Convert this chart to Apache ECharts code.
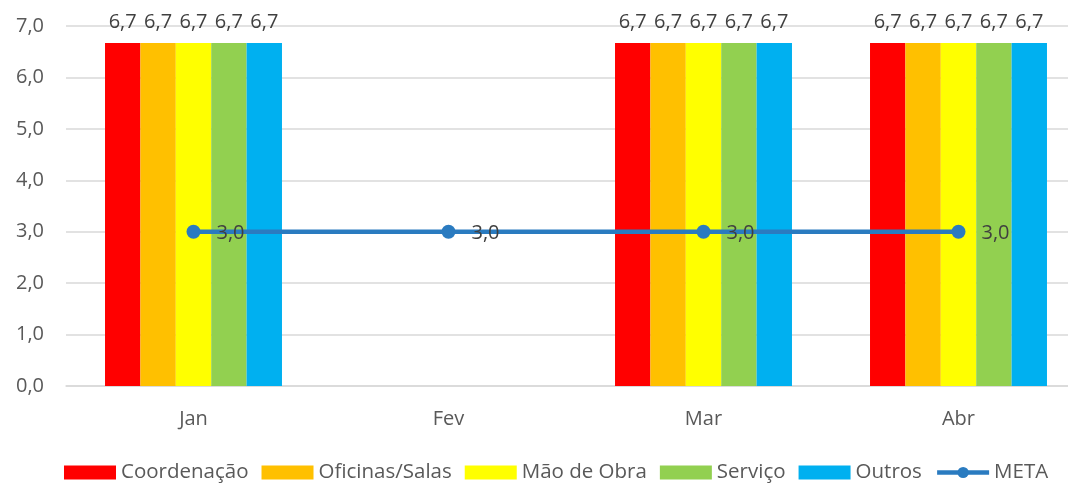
<!DOCTYPE html>
<html>
<head>
<meta charset="utf-8">
<script src="https://cdn.jsdelivr.net/npm/echarts@6/dist/echarts.min.js"></script>
<style>
    html, body { margin: 0; padding: 0; background: #fff; overflow: hidden; }
    /* plot runs past the right edge in the original, so the canvas is a bit wider than the window */
    #chart { width: 1086px; height: 483px; }
</style>
</head>
<body>
<div id="chart"></div>
<script>
var months = ['Jan', 'Fev', 'Mar', 'Abr'];
var coordenacao = [6.67, null, 6.67, 6.67];
var oficinas = [6.67, null, 6.67, 6.67];
var maoDeObra = [6.67, null, 6.67, 6.67];
var servico = [6.67, null, 6.67, 6.67];
var outros = [6.67, null, 6.67, 6.67];
var meta = [3, 3, 3, 3];

var font = 'Open Sans';
var fmt = function (v) { return Number(v).toFixed(1).replace('.', ','); };

function barSeries(name, data, color) {
    return {
        name: name,
        type: 'bar',
        data: data,
        barGap: 0,
        barCategoryGap: '30.6%',
        itemStyle: {color: color},
        label: {
            show: true,
            position: 'top',
            distance: 11,
            color: '#404040',
            fontFamily: font,
            fontSize: 20,
            formatter: function (p) { return fmt(p.value); }
        }
    };
}

var chart = echarts.init(document.getElementById('chart'));
chart.setOption({
    animation: false,
    textStyle: {fontFamily: font},
    grid: {left: 66, right: 0, top: 26, bottom: 97, containLabel: false},
    legend: {
        top: 462,
        left: 64,
        padding: 0,
        itemWidth: 52,
        itemHeight: 14,
        itemGap: 13,
        textStyle: {color: '#595959', fontSize: 20.5, fontFamily: font},
        data: [
            {name: 'Coordenação', icon: 'rect'},
            {name: 'Oficinas/Salas', icon: 'rect'},
            {name: 'Mão de Obra', icon: 'rect'},
            {name: 'Serviço', icon: 'rect'},
            {name: 'Outros', icon: 'rect'},
            {name: 'META', itemWidth: 56, itemHeight: 16, lineStyle: {width: 4.5}}
        ]
    },
    xAxis: {
        type: 'category',
        data: months,
        axisLine: {lineStyle: {color: '#D9D9D9', width: 1.5}},
        axisTick: {show: false},
        axisLabel: {color: '#595959', fontSize: 20, margin: 23, fontFamily: font}
    },
    yAxis: {
        type: 'value',
        min: 0,
        max: 7,
        interval: 1,
        axisLabel: {color: '#595959', fontSize: 20, margin: 22, fontFamily: font, formatter: fmt},
        splitLine: {lineStyle: {color: '#D9D9D9', width: 1.5}}
    },
    series: [
        barSeries('Coordenação', coordenacao, '#FF0000'),
        barSeries('Oficinas/Salas', oficinas, '#FFC000'),
        barSeries('Mão de Obra', maoDeObra, '#FFFF00'),
        barSeries('Serviço', servico, '#92D050'),
        barSeries('Outros', outros, '#00B0F0'),
        {
            name: 'META',
            type: 'line',
            data: meta,
            z: 5,
            symbol: 'circle',
            symbolSize: 14,
            lineStyle: {color: '#2A7BC0', width: 4.5},
            itemStyle: {color: '#2A7BC0'},
            label: {
                show: true,
                position: 'right',
                distance: 16,
                offset: [0, 2],
                color: '#404040',
                fontFamily: font,
                fontSize: 20,
                formatter: function (p) { return fmt(p.value); }
            }
        }
    ]
});
</script>
</body>
</html>
